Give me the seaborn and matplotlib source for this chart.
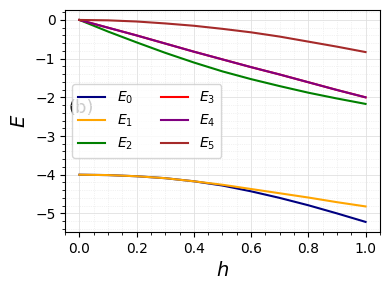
import numpy as np
import pandas as pd
import matplotlib
matplotlib.use("Agg")
import matplotlib.pyplot as plt
import seaborn as sns
from matplotlib.ticker import MultipleLocator

# --- Data ---
h = [0.0, 0.1, 0.2, 0.3, 0.4, 0.5, 0.6, 0.7, 0.8, 0.9, 1.0]
E0 = [-4.00, -4.01, -4.04, -4.09, -4.17, -4.28, -4.43, -4.60, -4.79, -5.00, -5.22]
E1 = [-4.00, -4.01, -4.04, -4.09, -4.17, -4.26, -4.37, -4.48, -4.59, -4.71, -4.82]
E2 = [0.00, -0.30, -0.58, -0.85, -1.10, -1.33, -1.53, -1.71, -1.88, -2.03, -2.17]
E3 = [0.00, -0.20, -0.40, -0.61, -0.82, -1.02, -1.22, -1.41, -1.61, -1.81, -2.00]
E4 = [0.00, -0.20, -0.40, -0.61, -0.82, -1.02, -1.22, -1.41, -1.61, -1.81, -2.00]
E5 = [0.00, -0.01, -0.04, -0.09, -0.15, -0.23, -0.32, -0.43, -0.56, -0.69, -0.83]

series = [E0, E1, E2, E3, E4, E5]
colors = ['navy', 'orange', 'green', 'red', 'purple', 'brown']


def main():
    fig, ax = plt.subplots(figsize=(3.9, 2.9), dpi=100)
    fig.subplots_adjust(left=0.167, right=0.974, top=0.966, bottom=0.2)

    for i, (vals, c) in enumerate(zip(series, colors)):
        df = pd.DataFrame({'h': h, 'E': vals})
        sns.lineplot(data=df, x='h', y='E', ax=ax, color=c, lw=1.5,
                     label=f'$E_{i}$')

    ax.xaxis.set_major_locator(MultipleLocator(0.2))
    ax.xaxis.set_minor_locator(MultipleLocator(0.05))
    ax.yaxis.set_major_locator(MultipleLocator(1))
    ax.yaxis.set_minor_locator(MultipleLocator(0.2))
    ax.grid(which='major', color='#e0e0e0', lw=0.6)
    ax.grid(which='minor', color='#e6e6e6', lw=0.5, ls=':')

    ax.set_xlabel('$h$', fontsize=14)
    ax.set_ylabel('$E$', fontsize=14)

    # panel tag sits behind the semi-transparent legend
    ax.text(0.012, 0.56, '(b)', transform=ax.transAxes, fontsize=13,
            color='black', va='center', ha='left', zorder=1)
    ax.legend(loc='center left', ncol=2, fontsize=10)

    plt.savefig('out.png', dpi=100)


if __name__ == "__main__":
    main()
